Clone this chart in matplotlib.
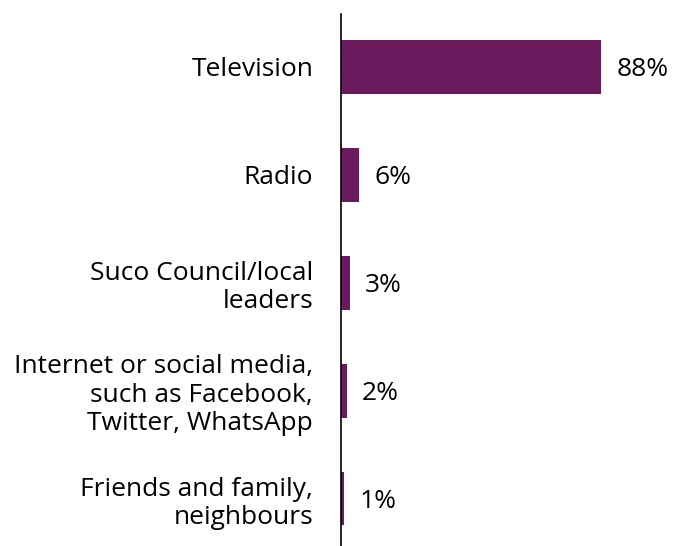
import matplotlib
matplotlib.use("Agg")
import matplotlib.pyplot as plt

categories = [
    "Television",
    "Radio",
    "Suco Council/local\nleaders",
    "Internet or social media,\nsuch as Facebook,\nTwitter, WhatsApp",
    "Friends and family,\nneighbours",
]
values = [88, 6, 3, 2, 1]
value_labels = ["88%", "6%", "3%", "2%", "1%"]

BAR_COLOR = "#6b1a5e"
FS = 19

plt.rcParams["font.family"] = ["Open Sans", "DejaVu Sans"]

fig = plt.figure(figsize=(6.73, 5.46), dpi=100)
ax = fig.add_axes([341 / 673, 0, 1 - 341 / 673, 1 - 14 / 546])

pos = list(range(len(categories)))
ax.barh(pos, values, height=0.5, color=BAR_COLOR)
ax.set_xlim(0, 112.4)
ax.set_ylim(4.44, -0.49)

for p, v, lab in zip(pos, values, value_labels):
    ax.annotate(lab, (v, p), xytext=(11, 0), textcoords="offset points",
                va="center_baseline", ha="left", fontsize=FS, color="black")

ax.set_yticks(pos)
ax.set_yticklabels(categories, fontsize=FS, linespacing=1.18)
ax.tick_params(axis="y", length=0, pad=20)
ax.set_xticks([])
for s in ["top", "right", "bottom"]:
    ax.spines[s].set_visible(False)
ax.spines["left"].set_color("black")
ax.spines["left"].set_linewidth(1.2)

fig.savefig("out.png", dpi=100)
